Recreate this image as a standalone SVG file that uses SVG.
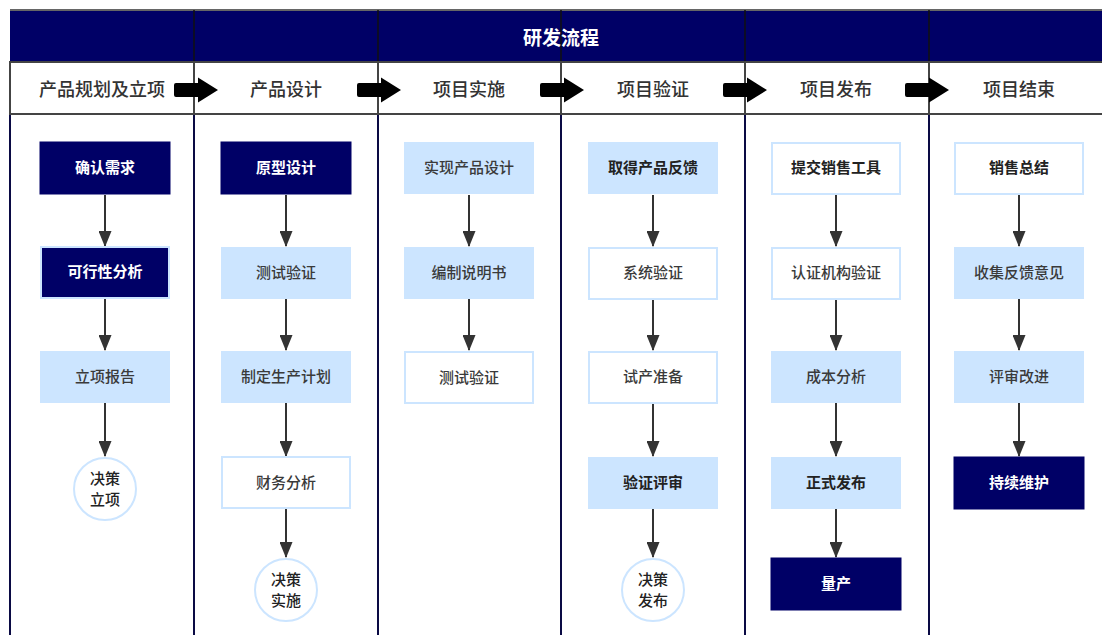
<svg xmlns="http://www.w3.org/2000/svg" width="1102" height="635" viewBox="0 0 1102 635">
<style>
text{font-family:"Noto Sans CJK SC","Noto Sans",sans-serif;text-anchor:middle;dominant-baseline:central}
.title{fill:#fff;font-size:19px;font-weight:bold}
.phase{fill:#333;font-size:18px;font-weight:500}
.dark rect{fill:#000066;stroke:#000066;stroke-width:1}
.dark text{fill:#fff;font-size:15px;font-weight:bold}
.darkb rect{fill:#000066;stroke:#cce5ff;stroke-width:2}
.darkb text{fill:#fff;font-size:15px;font-weight:bold}
.light rect{fill:#cce5ff}
.light text{fill:#3a3a3a;font-size:15px;font-weight:500}
.white rect{fill:#fff;stroke:#cce5ff;stroke-width:2}
.white text{fill:#3a3a3a;font-size:15px;font-weight:500}
.strong text{fill:#222;font-weight:bold}
.circ circle{fill:#fff;stroke:#cce5ff;stroke-width:2}
.circ text{fill:#222;font-size:15px;font-weight:500}
.conn line{stroke:#333;stroke-width:2;marker-end:url(#ah)}
.bar{fill:#000}
</style>
<defs>
<marker id="ah" viewBox="0 0 16 13" markerWidth="16" markerHeight="13" refX="15" refY="6.5" orient="auto" markerUnits="userSpaceOnUse">
<path d="M0,0 L16,6.5 L0,13 Z" fill="#333"/>
</marker>
<path id="blk" d="M2,-7 H24 V-12.5 L44,0 L24,12.5 V7 H2 Q0,7 0,5 V-5 Q0,-7 2,-7 Z"/>
</defs>
<rect x="0" y="0" width="1102" height="635" fill="#fff"/>
<g id="frame">
<rect x="10" y="10" width="1094" height="52" fill="#000066"/>
<line x1="10" y1="10" x2="1102" y2="10" stroke="#666" stroke-width="2"/>
<g stroke="#111" stroke-width="1.5">
<line x1="194" y1="10" x2="194" y2="62"/><line x1="378" y1="10" x2="378" y2="62"/><line x1="561" y1="10" x2="561" y2="62"/><line x1="745" y1="10" x2="745" y2="62"/><line x1="929" y1="10" x2="929" y2="62"/>
</g>
<rect x="10" y="62" width="1094" height="52" fill="#fff" stroke="#444" stroke-width="2"/>
<g stroke="#444" stroke-width="2">
<line x1="194" y1="62" x2="194" y2="114"/><line x1="378" y1="62" x2="378" y2="114"/><line x1="561" y1="62" x2="561" y2="114"/><line x1="745" y1="62" x2="745" y2="114"/><line x1="929" y1="62" x2="929" y2="114"/>
</g>
<line x1="10" y1="62" x2="10" y2="114" stroke="#444" stroke-width="2"/>
<g stroke="#0a0a44" stroke-width="2">
<line x1="10" y1="115" x2="10" y2="635"/><line x1="194" y1="115" x2="194" y2="635"/><line x1="378" y1="115" x2="378" y2="635"/><line x1="561" y1="115" x2="561" y2="635"/><line x1="745" y1="115" x2="745" y2="635"/><line x1="929" y1="115" x2="929" y2="635"/>
</g>
<text class="title" x="561" y="36">研发流程</text>
<text class="phase" x="102" y="88">产品规划及立项</text>
<text class="phase" x="286" y="88">产品设计</text>
<text class="phase" x="469" y="88">项目实施</text>
<text class="phase" x="653" y="88">项目验证</text>
<text class="phase" x="836" y="88">项目发布</text>
<text class="phase" x="1019" y="88">项目结束</text>
<use href="#blk" class="bar" x="174" y="90"/>
<use href="#blk" class="bar" x="357" y="90"/>
<use href="#blk" class="bar" x="540" y="90"/>
<use href="#blk" class="bar" x="723" y="90"/>
<use href="#blk" class="bar" x="905" y="90"/>
</g>
<g id="connectors" class="conn">
<line x1="105" y1="195" x2="105" y2="246"/>
<line x1="105" y1="299" x2="105" y2="350"/>
<line x1="105" y1="403" x2="105" y2="456"/>
<line x1="286" y1="195" x2="286" y2="246"/>
<line x1="286" y1="299" x2="286" y2="350"/>
<line x1="286" y1="403" x2="286" y2="456"/>
<line x1="286" y1="509" x2="286" y2="557"/>
<line x1="469" y1="195" x2="469" y2="246"/>
<line x1="469" y1="299" x2="469" y2="350"/>
<line x1="653" y1="195" x2="653" y2="246"/>
<line x1="653" y1="299" x2="653" y2="350"/>
<line x1="653" y1="403" x2="653" y2="456"/>
<line x1="653" y1="509" x2="653" y2="557"/>
<line x1="836" y1="195" x2="836" y2="246"/>
<line x1="836" y1="299" x2="836" y2="350"/>
<line x1="836" y1="403" x2="836" y2="456"/>
<line x1="836" y1="509" x2="836" y2="557"/>
<line x1="1019" y1="195" x2="1019" y2="246"/>
<line x1="1019" y1="299" x2="1019" y2="350"/>
<line x1="1019" y1="403" x2="1019" y2="456"/>
</g>
<g id="n-c1-1" class="dark"><rect x="40" y="142" width="130" height="52"/><text x="105" y="166">确认需求</text></g>
<g id="n-c1-2" class="darkb"><rect x="41" y="247" width="128" height="51"/><text x="105" y="270">可行性分析</text></g>
<g id="n-c1-3" class="light"><rect x="40" y="351" width="130" height="52"/><text x="105" y="375">立项报告</text></g>
<g id="n-c1-4" class="circ"><circle cx="105" cy="489" r="31"/><text x="105" y="477">决策</text><text x="105" y="498">立项</text></g>
<g id="n-c2-1" class="dark"><rect x="221" y="142" width="130" height="52"/><text x="286" y="166">原型设计</text></g>
<g id="n-c2-2" class="light"><rect x="221" y="247" width="130" height="52"/><text x="286" y="271">测试验证</text></g>
<g id="n-c2-3" class="light"><rect x="221" y="351" width="130" height="52"/><text x="286" y="375">制定生产计划</text></g>
<g id="n-c2-4" class="white"><rect x="222" y="457" width="128" height="51"/><text x="286" y="481">财务分析</text></g>
<g id="n-c2-5" class="circ"><circle cx="286" cy="590" r="31"/><text x="286" y="578">决策</text><text x="286" y="599">实施</text></g>
<g id="n-c3-1" class="light"><rect x="404" y="142" width="130" height="52"/><text x="469" y="166">实现产品设计</text></g>
<g id="n-c3-2" class="light"><rect x="404" y="247" width="130" height="52"/><text x="469" y="271">编制说明书</text></g>
<g id="n-c3-3" class="white"><rect x="405" y="352" width="128" height="51"/><text x="469" y="376">测试验证</text></g>
<g id="n-c4-1" class="light strong"><rect x="588" y="142" width="130" height="52"/><text x="653" y="166">取得产品反馈</text></g>
<g id="n-c4-2" class="white"><rect x="589" y="248" width="128" height="51"/><text x="653" y="271">系统验证</text></g>
<g id="n-c4-3" class="white"><rect x="589" y="352" width="128" height="51"/><text x="653" y="375">试产准备</text></g>
<g id="n-c4-4" class="light strong"><rect x="588" y="457" width="130" height="52"/><text x="653" y="481">验证评审</text></g>
<g id="n-c4-5" class="circ"><circle cx="653" cy="590" r="31"/><text x="653" y="578">决策</text><text x="653" y="599">发布</text></g>
<g id="n-c5-1" class="white strong"><rect x="772" y="143" width="128" height="51"/><text x="836" y="166">提交销售工具</text></g>
<g id="n-c5-2" class="white"><rect x="772" y="248" width="128" height="51"/><text x="836" y="271">认证机构验证</text></g>
<g id="n-c5-3" class="light"><rect x="771" y="351" width="130" height="52"/><text x="836" y="375">成本分析</text></g>
<g id="n-c5-4" class="light strong"><rect x="771" y="457" width="130" height="52"/><text x="836" y="481">正式发布</text></g>
<g id="n-c5-5" class="dark"><rect x="771" y="558" width="130" height="52"/><text x="836" y="582">量产</text></g>
<g id="n-c6-1" class="white strong"><rect x="955" y="143" width="128" height="51"/><text x="1019" y="166">销售总结</text></g>
<g id="n-c6-2" class="light"><rect x="954" y="247" width="130" height="52"/><text x="1019" y="271">收集反馈意见</text></g>
<g id="n-c6-3" class="light"><rect x="954" y="351" width="130" height="52"/><text x="1019" y="375">评审改进</text></g>
<g id="n-c6-4" class="dark"><rect x="954" y="457" width="130" height="52"/><text x="1019" y="481">持续维护</text></g>
</svg>
